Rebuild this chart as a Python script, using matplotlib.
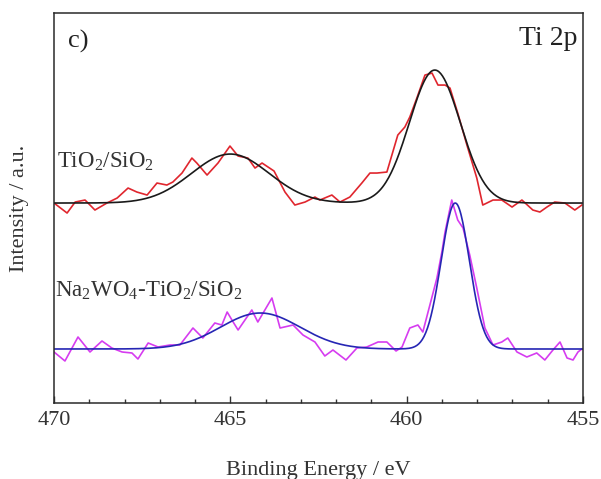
import numpy as np
import matplotlib
matplotlib.use("Agg")
import matplotlib.pyplot as plt

plt.rcParams['font.family'] = ['Liberation Serif', 'DejaVu Serif']
plt.rcParams['mathtext.fontset'] = 'custom'
plt.rcParams['mathtext.rm'] = 'Liberation Serif'

# Ti 2p spectrum, TiO2/SiO2 (offset upward)
be_tio2 = [470.00, 469.63, 469.40, 469.12, 468.84, 468.50, 468.21, 467.90, 467.65, 467.36,
           467.08, 466.80, 466.63, 466.37, 466.09, 465.95, 465.66, 465.35, 465.01, 464.78,
           464.50, 464.30, 464.10, 463.76, 463.45, 463.17, 462.88, 462.60, 462.46, 462.12,
           461.89, 461.61, 461.27, 461.04, 460.84, 460.56, 460.25, 460.05, 459.91, 459.71,
           459.48, 459.28, 459.11, 458.91, 458.77, 458.55, 458.29, 458.01, 457.84, 457.55,
           457.30, 457.01, 456.73, 456.42, 456.22, 456.02, 455.80, 455.51, 455.23, 455.03]
int_tio2 = [200, 190, 201, 203, 193, 200, 205, 215, 211, 208,
            220, 218, 221, 230, 245, 240, 228, 240, 257, 247,
            245, 235, 240, 232, 211, 198, 201, 206, 203, 208,
            201, 206, 220, 230, 230, 231, 268, 276, 286, 305,
            328, 330, 318, 318, 315, 290, 258, 225, 198, 203,
            203, 196, 203, 193, 191, 196, 201, 200, 193, 198]

# Ti 2p spectrum, Na2WO4-TiO2/SiO2
be_nawo = [470.00, 469.69, 469.32, 468.98, 468.64, 468.36, 468.07, 467.79, 467.62, 467.33,
           467.05, 466.71, 466.43, 466.06, 465.78, 465.44, 465.24, 465.09, 464.92, 464.78,
           464.39, 464.22, 463.82, 463.59, 463.22, 462.94, 462.60, 462.32, 462.09, 461.72,
           461.41, 461.13, 460.81, 460.56, 460.30, 460.13, 459.91, 459.68, 459.54, 459.34,
           459.14, 459.00, 458.91, 458.72, 458.55, 458.40, 458.21, 458.01, 457.78, 457.55,
           457.30, 457.13, 456.87, 456.59, 456.31, 456.08, 455.85, 455.65, 455.45, 455.28,
           455.14, 455.03]
int_nawo = [51, 42, 66, 51, 62, 55, 51, 50, 44, 60,
            56, 58, 58, 75, 65, 80, 78, 91, 81, 73,
            93, 81, 105, 75, 78, 68, 61, 47, 53, 43,
            55, 56, 61, 61, 52, 56, 75, 78, 71, 98,
            125, 151, 171, 203, 183, 175, 148, 115, 75, 58,
            61, 65, 51, 46, 50, 43, 53, 61, 45, 43,
            51, 54]

# fitted components: baseline, (centre, height, sigma) for 2p1/2 and 2p3/2
fit_tio2_base = 200
fit_tio2_peaks = [(465.0, 49, 1.10), (459.2, 133, 0.72)]
fit_nawo_base = 54
fit_nawo_peaks = [(464.15, 36, 1.13), (458.62, 146, 0.40)]


def envelope(x, base, peaks):
    y = np.full_like(x, base, dtype=float)
    for c, h, s in peaks:
        y += h * np.exp(-0.5 * ((x - c) / s) ** 2)
    return y


xf = np.linspace(470, 455, 600)

fig = plt.figure(figsize=(6.01, 4.79), dpi=100)
ax = fig.add_axes([0.0899, 0.1587, 0.880, 0.814])

ax.plot(be_tio2, int_tio2, color='#e0262e', lw=1.2)
ax.plot(xf, envelope(xf, fit_tio2_base, fit_tio2_peaks), color='#1a1a1a', lw=1.2)
ax.plot(be_nawo, int_nawo, color='#d63cf0', lw=1.2)
ax.plot(xf, envelope(xf, fit_nawo_base, fit_nawo_peaks), color='#2626b4', lw=1.2)

ax.set_xlim(470, 455)
ax.set_ylim(0, 390)
ax.set_xticks([470, 465, 460, 455])
ax.set_xticks(np.arange(455, 471, 1), minor=True)
ax.set_yticks([])
ax.tick_params(axis='x', which='major', direction='in', length=5, width=1.0,
               labelsize=16, colors='#333333', pad=6)
ax.tick_params(axis='x', which='minor', direction='in', length=3, width=1.0, colors='#333333')
for sp in ax.spines.values():
    sp.set_linewidth(1.1)
    sp.set_color('#2a2a2a')

ax.set_xlabel('Binding Energy / eV', fontsize=16, color='#333333', labelpad=22)
ax.set_ylabel('Intensity / a.u.', fontsize=16, color='#333333', labelpad=18)

ax.text(0.026, 0.958, 'c)', transform=ax.transAxes, fontsize=19, color='#222222',
        ha='left', va='top')
ax.text(0.989, 0.968, 'Ti 2p', transform=ax.transAxes, fontsize=20, color='#222222',
        ha='right', va='top')
ax.text(0.006, 0.605, r'TiO$_{\mathregular{2}}$/SiO$_{\mathregular{2}}$', transform=ax.transAxes,
        fontsize=16.5, color='#333333', ha='left', va='baseline')
ax.text(0.002, 0.274, r'Na$_{\mathregular{2}}$WO$_{\mathregular{4}}$-TiO$_{\mathregular{2}}$/SiO$_{\mathregular{2}}$',
        transform=ax.transAxes, fontsize=16.5, color='#333333', ha='left', va='baseline')

fig.savefig('out.png', dpi=100)
